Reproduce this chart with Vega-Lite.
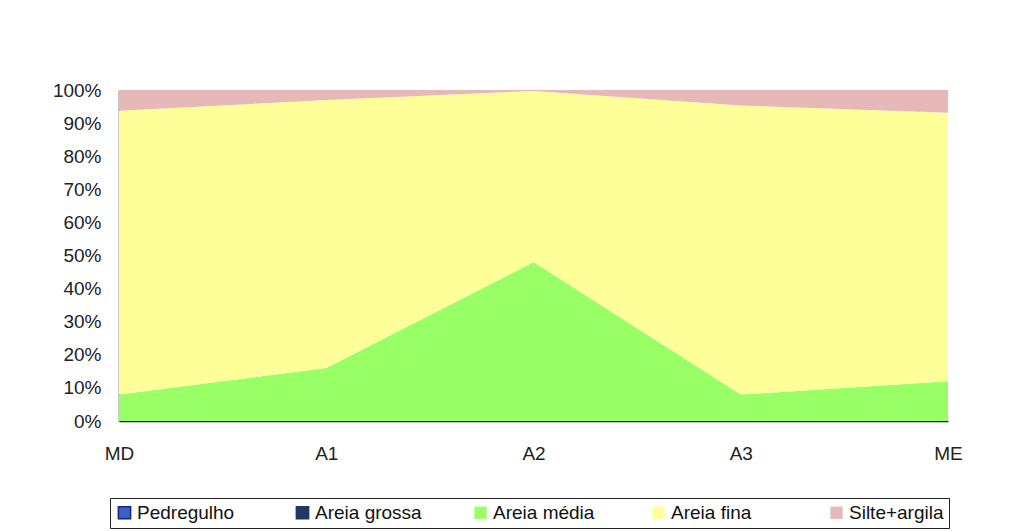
{
  "$schema": "https://vega.github.io/schema/vega-lite/v6.json",
  "width": 829,
  "height": 331,
  "autosize": "none",
  "padding": {"left": 119, "top": 90, "right": 63, "bottom": 110},
  "background": "white",
  "config": {
    "view": {"stroke": null},
    "font": "Liberation Sans",
    "axis": {"labelFont": "Liberation Sans", "labelColor": "#222222", "domainColor": "#222222", "domainWidth": 1.5, "ticks": false, "grid": false, "title": null}
  },
  "data": {
    "values": [
      {"site": "MD", "classe": "Pedregulho", "ord": 0, "pct": 0},
      {"site": "A1", "classe": "Pedregulho", "ord": 0, "pct": 0},
      {"site": "A2", "classe": "Pedregulho", "ord": 0, "pct": 0},
      {"site": "A3", "classe": "Pedregulho", "ord": 0, "pct": 0},
      {"site": "ME", "classe": "Pedregulho", "ord": 0, "pct": 0},
      {"site": "MD", "classe": "Areia grossa", "ord": 1, "pct": 0},
      {"site": "A1", "classe": "Areia grossa", "ord": 1, "pct": 0},
      {"site": "A2", "classe": "Areia grossa", "ord": 1, "pct": 0},
      {"site": "A3", "classe": "Areia grossa", "ord": 1, "pct": 0},
      {"site": "ME", "classe": "Areia grossa", "ord": 1, "pct": 0},
      {"site": "MD", "classe": "Areia média", "ord": 2, "pct": 8},
      {"site": "A1", "classe": "Areia média", "ord": 2, "pct": 16},
      {"site": "A2", "classe": "Areia média", "ord": 2, "pct": 48},
      {"site": "A3", "classe": "Areia média", "ord": 2, "pct": 8},
      {"site": "ME", "classe": "Areia média", "ord": 2, "pct": 12},
      {"site": "MD", "classe": "Areia fina", "ord": 3, "pct": 85.7},
      {"site": "A1", "classe": "Areia fina", "ord": 3, "pct": 81},
      {"site": "A2", "classe": "Areia fina", "ord": 3, "pct": 51.7},
      {"site": "A3", "classe": "Areia fina", "ord": 3, "pct": 87.3},
      {"site": "ME", "classe": "Areia fina", "ord": 3, "pct": 81.1},
      {"site": "MD", "classe": "Silte+argila", "ord": 4, "pct": 6.3},
      {"site": "A1", "classe": "Silte+argila", "ord": 4, "pct": 3},
      {"site": "A2", "classe": "Silte+argila", "ord": 4, "pct": 0.3},
      {"site": "A3", "classe": "Silte+argila", "ord": 4, "pct": 4.7},
      {"site": "ME", "classe": "Silte+argila", "ord": 4, "pct": 6.9}
    ]
  },
  "mark": {"type": "area", "interpolate": "linear"},
  "encoding": {
    "x": {
      "field": "site", "type": "ordinal",
      "sort": ["MD", "A1", "A2", "A3", "ME"],
      "scale": {"type": "point", "padding": 0},
      "axis": {"labelAngle": 0, "labelFontSize": 19, "labelPadding": 23, "labelBaseline": "top"}
    },
    "y": {
      "field": "pct", "type": "quantitative", "stack": "zero",
      "scale": {"domain": [0, 100], "nice": false},
      "axis": {"values": [0, 10, 20, 30, 40, 50, 60, 70, 80, 90, 100], "labelExpr": "datum.value + '%'", "labelFontSize": 19, "labelPadding": 18}
    },
    "order": {"field": "ord", "type": "quantitative"},
    "color": {
      "field": "classe", "type": "nominal",
      "scale": {
        "domain": ["Pedregulho", "Areia grossa", "Areia média", "Areia fina", "Silte+argila"],
        "range": ["#3A63C4", "#1F3864", "#99FF66", "#FFFF99", "#E6B8B8"]
      },
      "legend": {
        "title": null,
        "orient": "none",
        "direction": "horizontal",
        "columns": 5,
        "legendX": -9,
        "legendY": 408,
        "gridAlign": "all",
        "columnPadding": 49,
        "symbolType": "square",
        "symbolSize": 150,
        "symbolOpacity": 1,
        "symbolStrokeWidth": 1.5,
        "labelFontSize": 19,
        "labelColor": "#111111",
        "labelOffset": 3,
        "labelLimit": 200,
        "strokeColor": "#222222",
        "padding": 5,
        "encode": {
          "symbols": {"update": {"stroke": {"signal": "datum.value === 'Pedregulho' ? '#1a237e' : (datum.value === 'Areia grossa' ? '#1F3864' : 'transparent')"}}}
        }
      }
    }
  }
}
